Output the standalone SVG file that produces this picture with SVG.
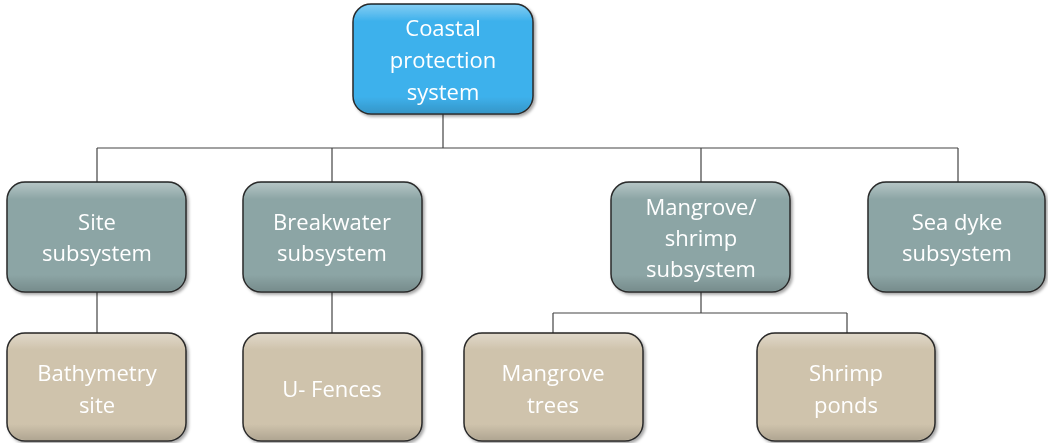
<svg xmlns="http://www.w3.org/2000/svg" width="1048" height="443" viewBox="0 0 1048 443">
<style>
.n{stroke:#2a2a2a;stroke-width:1.5}
.top{fill:#3eb1ec}
.sub{fill:#8ca5a5}
.leaf{fill:#cfc3ac}
.t{font-family:"Open Sans","Liberation Sans",sans-serif;font-size:22px;fill:#ffffff;text-anchor:middle}
.c{stroke:#444;stroke-width:1.2;fill:none}
.hl{fill:url(#hl);stroke:none}
</style>
<defs>
<linearGradient id="hl" x1="0" y1="0" x2="0" y2="1">
<stop offset="0" stop-color="#fff" stop-opacity="0.35"/>
<stop offset="0.15" stop-color="#fff" stop-opacity="0"/>
<stop offset="0.85" stop-color="#000" stop-opacity="0"/>
<stop offset="1" stop-color="#000" stop-opacity="0.15"/>
</linearGradient>
<filter id="sh" x="-10%" y="-10%" width="125%" height="130%">
<feDropShadow dx="2" dy="2" stdDeviation="1.5" flood-color="#000" flood-opacity="0.35"/>
</filter>
</defs>
<g id="connectors">
<path class="c" d="M443 114V148M97 148H958M97 148V182M332 148V182M701 148V182M958 148V182"/>
<path class="c" d="M97 292V333M332 292V333"/>
<path class="c" d="M701 292V313M553 313H847M553 313V333M847 313V333"/>
</g>
<g id="n-coastal" filter="url(#sh)">
<rect class="n top" x="353" y="4" width="180" height="110" rx="18"/>
<rect class="hl" x="354" y="5" width="178" height="108" rx="17"/>
<text class="t" x="443" y="36">Coastal</text>
<text class="t" x="443" y="68">protection</text>
<text class="t" x="443" y="100">system</text>
</g>
<g id="n-site" filter="url(#sh)">
<rect class="n sub" x="7" y="182" width="179" height="110" rx="18"/>
<rect class="hl" x="8" y="183" width="177" height="108" rx="17"/>
<text class="t" x="97" y="230">Site</text>
<text class="t" x="97" y="261">subsystem</text>
</g>
<g id="n-breakwater" filter="url(#sh)">
<rect class="n sub" x="243" y="182" width="179" height="110" rx="18"/>
<rect class="hl" x="244" y="183" width="177" height="108" rx="17"/>
<text class="t" x="332" y="230">Breakwater</text>
<text class="t" x="332" y="261">subsystem</text>
</g>
<g id="n-mangrove" filter="url(#sh)">
<rect class="n sub" x="611" y="182" width="179" height="110" rx="18"/>
<rect class="hl" x="612" y="183" width="177" height="108" rx="17"/>
<text class="t" x="701" y="215">Mangrove/</text>
<text class="t" x="701" y="246">shrimp</text>
<text class="t" x="701" y="277">subsystem</text>
</g>
<g id="n-seadyke" filter="url(#sh)">
<rect class="n sub" x="868" y="182" width="177" height="110" rx="18"/>
<rect class="hl" x="869" y="183" width="175" height="108" rx="17"/>
<text class="t" x="957" y="230">Sea dyke</text>
<text class="t" x="957" y="261">subsystem</text>
</g>
<g id="n-bathymetry" filter="url(#sh)">
<rect class="n leaf" x="7" y="333" width="179" height="108" rx="18"/>
<rect class="hl" x="8" y="334" width="177" height="106" rx="17"/>
<text class="t" x="97" y="381">Bathymetry</text>
<text class="t" x="97" y="413">site</text>
</g>
<g id="n-ufences" filter="url(#sh)">
<rect class="n leaf" x="243" y="333" width="179" height="108" rx="18"/>
<rect class="hl" x="244" y="334" width="177" height="106" rx="17"/>
<text class="t" x="332" y="397">U- Fences</text>
</g>
<g id="n-mangrovetrees" filter="url(#sh)">
<rect class="n leaf" x="464" y="333" width="179" height="108" rx="18"/>
<rect class="hl" x="465" y="334" width="177" height="106" rx="17"/>
<text class="t" x="553" y="381">Mangrove</text>
<text class="t" x="553" y="413">trees</text>
</g>
<g id="n-shrimpponds" filter="url(#sh)">
<rect class="n leaf" x="757" y="333" width="178" height="108" rx="18"/>
<rect class="hl" x="758" y="334" width="176" height="106" rx="17"/>
<text class="t" x="846" y="381">Shrimp</text>
<text class="t" x="846" y="413">ponds</text>
</g>
</svg>
